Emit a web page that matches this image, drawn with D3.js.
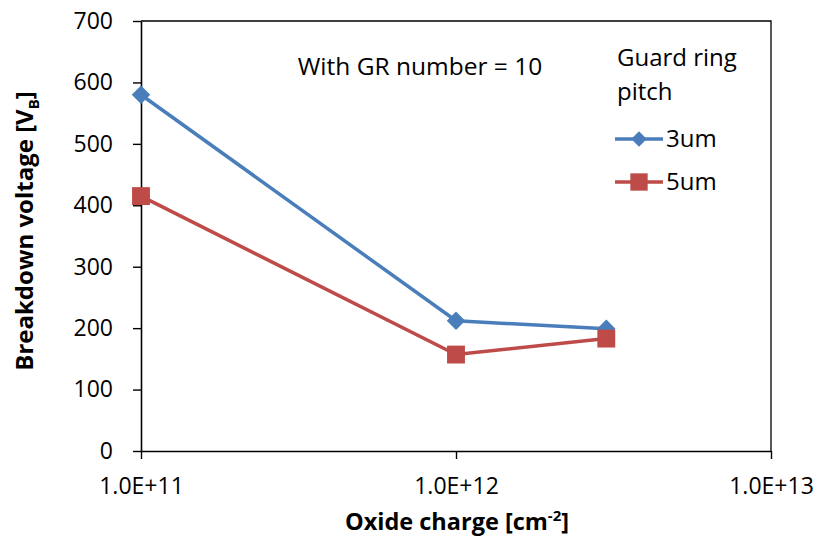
<!DOCTYPE html>
<html lang="en">
<head>
<meta charset="UTF-8">
<title>Breakdown voltage</title>
<script src="https://cdn.jsdelivr.net/npm/d3@7"></script>
<style>
  body { margin: 0; background: #fff; }
  text { font-family: "Open Sans", "Noto Sans", sans-serif; fill: #000; }
</style>
</head>
<body>
<script>
// data
var charges = [1e11, 1e12, 3e12];
var pitch3 = [580, 212, 199];
var pitch5 = [415, 157, 183];
var seriesNames = ["3um", "5um"];
var yTicks = [0, 100, 200, 300, 400, 500, 600, 700];
var xTicks = [1e11, 1e12, 1e13];

var width = 819, height = 543;
var mLeft = 141, mRight = 771, mTop = 21, mBottom = 451;

var svg = d3.select("body").append("svg")
    .attr("width", width)
    .attr("height", height);

var x = d3.scaleLog().domain([1e11, 1e13]).range([mLeft, mRight]);
var y = d3.scaleLinear().domain([0, 700]).range([mBottom, mTop]);

// plot border (top + right)
svg.append("path")
    .attr("d", "M" + mLeft + "," + mTop + "H" + mRight + "V" + mBottom)
    .attr("fill", "none").attr("stroke", "#000").attr("stroke-width", 1.3);

var xAxis = d3.axisBottom(x).tickValues(xTicks)
    .tickFormat(function(d) { return d.toExponential(1).toUpperCase(); })
    .tickSizeInner(8).tickSizeOuter(0).tickPadding(19);
var yAxis = d3.axisLeft(y).tickValues(yTicks)
    .tickSizeInner(8).tickSizeOuter(0).tickPadding(20);

var gx = svg.append("g").attr("transform", "translate(0," + mBottom + ")").call(xAxis);
var gy = svg.append("g").attr("transform", "translate(" + mLeft + ",0)").call(yAxis);
[gx, gy].forEach(function(g) {
    g.select(".domain").attr("stroke", "#000").attr("stroke-width", 1.6);
    g.selectAll(".tick line").attr("stroke", "#000").attr("stroke-width", 1.4);
    g.selectAll(".tick text").attr("font-size", 23).attr("fill", "#000")
        .style("font-family", "'Open Sans', sans-serif");
});

var series = [
    { name: seriesNames[0], values: pitch3, color: "#4a7ebb", diamond: true },
    { name: seriesNames[1], values: pitch5, color: "#be4b48", diamond: false }
];

var line = d3.line()
    .x(function(d, i) { return x(charges[i]); })
    .y(function(d) { return y(d); });

function marker(sel, s, big) {
    var sz = s.diamond ? (big ? 170 : 120) : (big ? 320 : 300);
    sel.attr("d", d3.symbol().type(d3.symbolSquare).size(sz))
        .attr("fill", s.color);
}

series.forEach(function(s) {
    svg.append("path")
        .datum(s.values)
        .attr("fill", "none")
        .attr("stroke", s.color)
        .attr("stroke-width", 3.5)
        .attr("d", line);
    svg.selectAll(null)
        .data(s.values)
        .enter()
        .append("path")
        .attr("transform", function(d, i) {
            var t = "translate(" + x(charges[i]) + "," + y(d) + ")";
            return s.diamond ? t + " rotate(45)" : t;
        })
        .call(marker, s, true);
});

// annotation
svg.append("text")
    .attr("x", 420).attr("y", 75)
    .attr("text-anchor", "middle")
    .attr("font-size", 24.5)
    .text("With GR number = 10");

// legend
svg.append("text").attr("x", 617).attr("y", 66).attr("font-size", 24).text("Guard ring");
svg.append("text").attr("x", 617).attr("y", 100).attr("font-size", 24).text("pitch");

var legendY = [139, 182];
series.forEach(function(s, i) {
    var g = svg.append("g").attr("transform", "translate(615," + legendY[i] + ")");
    g.append("line").attr("x1", 0).attr("x2", 48).attr("y1", 0).attr("y2", 0)
        .attr("stroke", s.color).attr("stroke-width", 3.5);
    g.append("path")
        .attr("transform", s.diamond ? "translate(24,0) rotate(45)" : "translate(24,0)")
        .call(marker, s, false);
    g.append("text").attr("x", 51).attr("y", 8).attr("font-size", 24).text(s.name);
});

// axis titles
var xt = svg.append("text")
    .attr("x", 457).attr("y", 530)
    .attr("text-anchor", "middle")
    .attr("font-size", 23.5).attr("font-weight", "bold");
xt.append("tspan").text("Oxide charge [cm");
xt.append("tspan").attr("font-size", 15).attr("dy", -9).text("-2");
xt.append("tspan").attr("dy", 9).text("]");

var yt = svg.append("text")
    .attr("transform", "translate(33,231) rotate(-90)")
    .attr("text-anchor", "middle")
    .attr("font-size", 24).attr("font-weight", "bold");
yt.append("tspan").text("Breakdown voltage [V");
yt.append("tspan").attr("font-size", 15).attr("dy", 6).text("B");
yt.append("tspan").attr("dy", -6).text("]");
</script>
</body>
</html>
